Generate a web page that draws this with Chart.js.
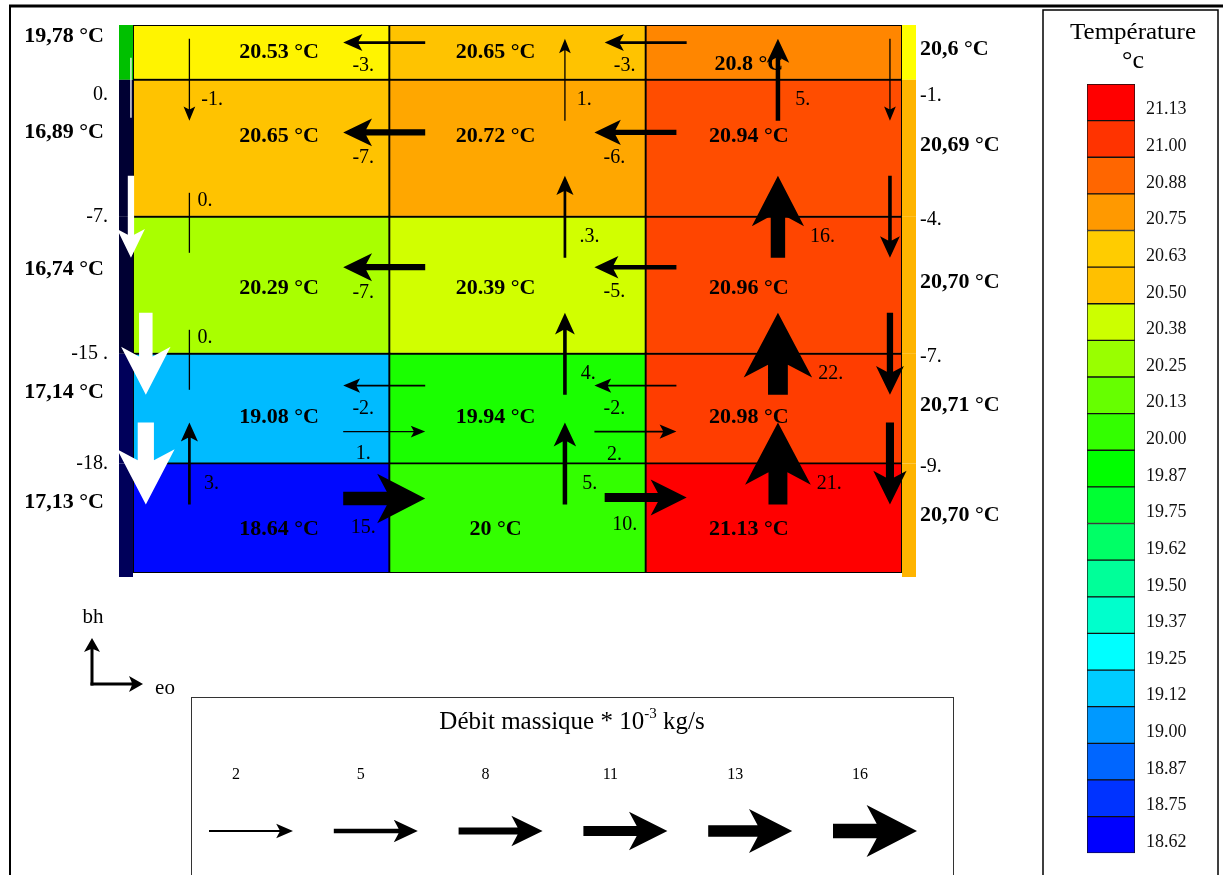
<!DOCTYPE html>
<html>
<head>
<meta charset="utf-8">
<script src="https://cdn.jsdelivr.net/npm/chart.js@4.4.1/dist/chart.umd.min.js"></script>
<style>
  body { margin: 0; background: #fff; }
  #wrap { position: relative; width: 1223px; height: 875px; overflow: hidden; }
  #flowChart { position: absolute; left: 0; top: 0; }
  #scaleChart { position: absolute; left: 1043px; top: 10px; }
</style>
</head>
<body>
<div id="wrap">
  <canvas id="flowChart" width="1223" height="875"></canvas>
  <canvas id="scaleChart" width="175" height="865"></canvas>
</div>
<script>
// grid: 3 columns, 5 rows (rows listed top to bottom)
const columns = ['c1', 'c2', 'c3'];
const rowHeights = [0.5, 1.25, 1.25, 1, 1];
const cellTemps = [
    [20.53, 20.65, 20.8],
    [20.65, 20.72, 20.94],
    [20.29, 20.39, 20.96],
    [19.08, 19.94, 20.98],
    [18.64, 20, 21.13]
];
const leftWallTemps = ['19,78', '16,89', '16,74', '17,14', '17,13'];
const rightWallTemps = ['20,6', '20,69', '20,70', '20,71', '20,70'];

// horizontal flows across column boundaries (grid units, value * 10^-3 kg/s)
const hFlowX = [0.98, 0.98, 0.98, 0.98, 0.98, 0.98, 2, 1.96, 1.96, 1.96, 1.96, 2];
const hFlowY = [4.84, 4.02, 2.79, 1.71, 1.29, 0.68, 4.84, 4.02, 2.79, 1.71, 1.29, 0.69];
const hFlowVal = [-3, -7, -7, -2, 1, 15, -3, -6, -5, -2, 2, 10];

// vertical flows across row boundaries inside the columns
const vFlowX = [0.22, 0.22, 0.22, 0.22, 1.685, 1.685, 1.685, 1.685, 2.516, 2.516, 2.516, 2.516];
const vFlowY = [4.5, 3.25, 2, 1, 4.5, 3.25, 2, 1, 4.5, 3.25, 2, 1];
const vFlowVal = [-1, 0, 0, 3, 1, 3, 4, 5, 5, 16, 22, 21];
const vFlowLabels = ['-1.', '0.', '0.', '3.', '1.', '.3.', '4.', '5.', '5.', '16.', '22.', '21.'];

// flows along the walls
const wallFlowY = [4.5, 3.25, 2, 1];
const leftLaneX = [-0.008, -0.008, 0.05, 0.05];
const leftLaneVal = [0, -7, -15, -18];
const leftLaneLabels = ['0.', '-7.', '-15 .', '-18.'];
const rightLaneX = 2.953;
const rightLaneVal = [-1, -4, -7, -9];

// arrow scale legend
const legendFlows = [2, 5, 8, 11, 13, 16];

// colour scale (bottom to top)
const cbLabels = ['18.62', '18.75', '18.87', '19.00', '19.12', '19.25', '19.37', '19.50', '19.62', '19.75', '19.87',
    '20.00', '20.13', '20.25', '20.38', '20.50', '20.63', '20.75', '20.88', '21.00', '21.13'];
const cbColors = ['#0000ff', '#0033ff', '#0066ff', '#0099ff', '#00ccff', '#00ffff', '#00ffcc', '#00ff99', '#00ff66', '#00ff33', '#00ff00',
    '#33ff00', '#66ff00', '#99ff00', '#ccff00', '#ffc000', '#ffcc00', '#ff9900', '#ff6600', '#ff3300', '#ff0000'];

const leftWallColors = ['#00c000', '#000033', '#000033', '#00005a', '#00005a'];
const rightWallColors = ['#ffff00', '#ffb400', '#ffb400', '#ffb400', '#ffb400'];

const SERIF = "'Liberation Serif', 'Times New Roman', serif";

function tempColor(t) {
    const stops = [[0, 0, 255], [0, 255, 255], [0, 255, 0], [255, 255, 0], [255, 0, 0]];
    const tMin = parseFloat(cbLabels[0]), tMax = parseFloat(cbLabels[cbLabels.length - 1]);
    let f = (t - tMin) / (tMax - tMin) * 4;
    f = Math.max(0, Math.min(4, f));
    const i = Math.min(3, Math.floor(f)), r = f - i;
    const c = stops[i].map((v, k) => Math.round(v + (stops[i + 1][k] - v) * r));
    return `rgb(${c.join(',')})`;
}

function drawArrow(ctx, x0, y0, x1, y1, mag, color, size) {
    const dx = x1 - x0, dy = y1 - y0, L = Math.hypot(dx, dy);
    const ux = dx / L, uy = dy / L, nx = -uy, ny = ux;
    ctx.save();
    ctx.fillStyle = color;
    ctx.strokeStyle = color;
    if (mag === 0) {
        ctx.lineWidth = 1.3;
        ctx.beginPath();
        ctx.moveTo(x0, y0);
        ctx.lineTo(x1, y1);
        ctx.stroke();
        ctx.restore();
        return;
    }
    const s = size || {};
    const sw = (s.sw || Math.max(1.3, 0.9 * mag)) / 2;
    const hl = s.hl || 12 + 2.4 * mag;
    const hw = s.hw || 4.5 + 1.35 * mag;
    const nb = L - hl * 0.8;
    const P = (a, b) => [x0 + ux * a + nx * b, y0 + uy * a + ny * b];
    const pts = [P(0, -sw), P(nb, -sw), P(L - hl, -hw), P(L, 0), P(L - hl, hw), P(nb, sw), P(0, sw)];
    ctx.beginPath();
    pts.forEach((p, i) => i ? ctx.lineTo(p[0], p[1]) : ctx.moveTo(p[0], p[1]));
    ctx.closePath();
    ctx.fill();
    ctx.restore();
}

function headHalfWidth(mag) {
    return mag === 0 ? 2 : 4.5 + 1.35 * Math.abs(mag);
}

function text(ctx, str, x, y, font, align) {
    ctx.font = font;
    ctx.textAlign = align || 'center';
    ctx.textBaseline = 'middle';
    ctx.fillText(str, x, y);
}

// text stretched to a given width (the scale title is wide in the original)
function wideText(ctx, str, cx, cy, font, width) {
    ctx.save();
    ctx.font = font;
    ctx.textAlign = 'center';
    ctx.textBaseline = 'middle';
    const w = ctx.measureText(str).width;
    ctx.translate(cx, cy);
    ctx.scale(width / w, 1);
    ctx.fillText(str, 0, 0);
    ctx.restore();
}

const ARROW_LEN = 82;
const colLabelDx = [18, -22, -25];
const rowLabelDy = [0, -12, 3, 9, 11];

const flowOverlay = {
    id: 'flowOverlay',
    beforeDraw(chart) {
        const ctx = chart.ctx;
        ctx.save();
        ctx.strokeStyle = '#000';
        // outer frame
        ctx.lineWidth = 3;
        ctx.beginPath();
        ctx.moveTo(9, 6);
        ctx.lineTo(1223, 6);
        ctx.stroke();
        ctx.lineWidth = 2;
        ctx.beginPath();
        ctx.moveTo(10, 6);
        ctx.lineTo(10, 875);
        ctx.stroke();
        // colour scale box
        ctx.lineWidth = 1.5;
        ctx.strokeRect(1043, 10, 175, 880);
        // flow scale box
        ctx.lineWidth = 1;
        ctx.strokeStyle = '#333';
        ctx.strokeRect(191.5, 697.5, 762, 200);
        ctx.restore();
    },
    afterDatasetsDraw(chart) {
        const ctx = chart.ctx;
        const area = chart.chartArea;
        const xs = chart.scales.xq, ys = chart.scales.y;
        const X = v => xs.getPixelForValue(v), Y = v => ys.getPixelForValue(v);
        ctx.save();
        ctx.fillStyle = '#000';

        // row edges, top to bottom
        const tops = [];
        let top = ys.max;
        rowHeights.forEach(h => { tops.push(top); top -= h; });

        // wall strips
        rowHeights.forEach((h, r) => {
            const y0 = Y(tops[r]), y1 = Y(tops[r] - h) + (r === rowHeights.length - 1 ? 4 : 0);
            ctx.fillStyle = leftWallColors[r];
            ctx.fillRect(area.left - 14, y0, 14, y1 - y0);
            ctx.fillStyle = rightWallColors[r];
            ctx.fillRect(area.right, y0, 14, y1 - y0);
        });
        ctx.fillStyle = '#000';

        // cell temperatures and wall temperatures
        rowHeights.forEach((h, r) => {
            const ym = Y(tops[r] - h / 2);
            columns.forEach((c, ci) => {
                const dy = (r === 0 && ci === 2) ? 12 : rowLabelDy[r];
                text(ctx, cellTemps[r][ci] + ' °C', X(ci + 0.5) + colLabelDx[ci], ym + dy, 'bold 22px ' + SERIF);
            });
            text(ctx, leftWallTemps[r] + ' °C', area.left - 29, ym - 16, 'bold 22px ' + SERIF, 'right');
            text(ctx, rightWallTemps[r] + ' °C', area.right + 18, ym - 3, 'bold 22px ' + SERIF, 'left');
        });

        const flowFont = '20px ' + SERIF;

        // horizontal flows
        hFlowVal.forEach((v, i) => {
            const cx = X(hFlowX[i]), cy = Y(hFlowY[i]), d = Math.sign(v) * ARROW_LEN / 2;
            drawArrow(ctx, cx - d, cy, cx + d, cy, Math.abs(v), '#000');
            text(ctx, v + '.', cx - 21, cy + 22 + 0.5 * Math.abs(v), flowFont);
        });

        // vertical flows inside the columns
        vFlowVal.forEach((v, i) => {
            const cx = X(vFlowX[i]), cy = Y(vFlowY[i]);
            if (v === 0) {
                drawArrow(ctx, cx, cy - 24, cx, cy + 36, 0, '#000');
            } else {
                const d = Math.sign(v) * ARROW_LEN / 2;
                drawArrow(ctx, cx, cy + d, cx, cy - d, Math.abs(v), '#000');
            }
            text(ctx, vFlowLabels[i], cx + headHalfWidth(v) + 6, cy + (v === 0 ? -16 : 20), flowFont, 'left');
        });

        // right lane
        rightLaneVal.forEach((v, i) => {
            const cx = X(rightLaneX), cy = Y(wallFlowY[i]), d = Math.sign(v) * ARROW_LEN / 2;
            drawArrow(ctx, cx, cy + d, cx, cy - d, Math.abs(v), '#000');
            text(ctx, v + '.', area.right + 18, cy + (i === 0 ? 16 : 3), flowFont, 'left');
        });

        // left lane (white arrows on the wall)
        leftLaneVal.forEach((v, i) => {
            const cx = X(leftLaneX[i]), cy = Y(wallFlowY[i]);
            if (v === 0) {
                drawArrow(ctx, cx, cy - 22, cx, cy + 38, 0, '#fff');
            } else {
                const d = Math.sign(v) * ARROW_LEN / 2;
                drawArrow(ctx, cx, cy + d, cx, cy - d, Math.abs(v), '#fff');
            }
            text(ctx, leftLaneLabels[i], area.left - 25, cy + (i === 0 ? 15 : 0), flowFont, 'right');
        });

        // orientation glyph
        const ox = 92, oy = 684;
        const glyph = { sw: 3, hl: 14, hw: 8 };
        drawArrow(ctx, ox, oy + 1.5, ox, 638, 1, '#000', glyph);
        drawArrow(ctx, ox - 1.5, oy, 143, oy, 1, '#000', glyph);
        text(ctx, 'bh', 93, 617, '21px ' + SERIF);
        text(ctx, 'eo', 165, 688, '21px ' + SERIF);

        // colour scale title
        wideText(ctx, 'Température', 1133, 33, '24px ' + SERIF, 126);
        text(ctx, '°c', 1133, 61, '26px ' + SERIF);

        // flow scale legend
        ctx.font = '25px ' + SERIF;
        const t1 = 'Débit massique * 10', t2 = '-3', t3 = ' kg/s';
        const w1 = ctx.measureText(t1).width, w3 = ctx.measureText(t3).width;
        ctx.font = '15px ' + SERIF;
        const w2 = ctx.measureText(t2).width;
        let tx = 572 - (w1 + w2 + w3) / 2;
        ctx.textAlign = 'left';
        ctx.textBaseline = 'alphabetic';
        ctx.font = '25px ' + SERIF;
        ctx.fillText(t1, tx, 729);
        tx += w1;
        ctx.font = '15px ' + SERIF;
        ctx.fillText(t2, tx, 718);
        tx += w2;
        ctx.font = '25px ' + SERIF;
        ctx.fillText(t3, tx, 729);

        legendFlows.forEach((v, i) => {
            const x0 = 209 + i * 124.8;
            drawArrow(ctx, x0, 831, x0 + 84, 831, v, '#000');
            text(ctx, String(v), x0 + 27, 775, '16px ' + SERIF);
        });
        ctx.restore();
    }
};

const rowOrder = rowHeights.map((h, i) => rowHeights.length - 1 - i); // bottom row first

new Chart(document.getElementById('flowChart'), {
    type: 'bar',
    data: {
        labels: columns,
        datasets: rowOrder.map(r => ({
            label: 'row ' + (r + 1),
            data: columns.map(() => rowHeights[r]),
            backgroundColor: cellTemps[r].map(tempColor),
            borderColor: '#000',
            borderWidth: 1.3,
            borderSkipped: false,
            barPercentage: 1,
            categoryPercentage: 1
        }))
    },
    options: {
        responsive: false,
        animation: false,
        layout: { padding: { left: 133, right: 321, top: 25, bottom: 302 } },
        plugins: { legend: { display: false }, tooltip: { enabled: false } },
        scales: {
            x: { stacked: true, display: false },
            xq: { type: 'linear', axis: 'x', min: 0, max: 3, offset: false, display: false },
            y: { stacked: true, min: 0, max: 5, display: false }
        }
    },
    plugins: [flowOverlay]
});

new Chart(document.getElementById('scaleChart'), {
    type: 'bar',
    data: {
        labels: [''],
        datasets: cbLabels.map((l, i) => ({
            label: l,
            data: [1],
            backgroundColor: cbColors[i],
            borderColor: '#111',
            borderWidth: 1,
            borderSkipped: false,
            barPercentage: 1,
            categoryPercentage: 1
        }))
    },
    options: {
        responsive: false,
        animation: false,
        layout: { padding: { left: 44, right: 0, top: 74, bottom: 17 } },
        plugins: { legend: { display: false }, tooltip: { enabled: false } },
        scales: {
            x: { stacked: true, display: false },
            y: {
                stacked: true,
                position: 'right',
                min: 0,
                max: cbLabels.length,
                grid: { display: false, drawTicks: false },
                border: { display: false },
                afterBuildTicks: axis => { axis.ticks = cbLabels.map((l, i) => ({ value: i + 0.3 })); },
                afterFit: axis => { axis.width = 83; },
                ticks: {
                    autoSkip: false,
                    padding: 11,
                    color: '#111',
                    font: { family: SERIF, size: 18 },
                    callback: (v, i) => cbLabels[i]
                }
            }
        }
    }
});
</script>
</body>
</html>
